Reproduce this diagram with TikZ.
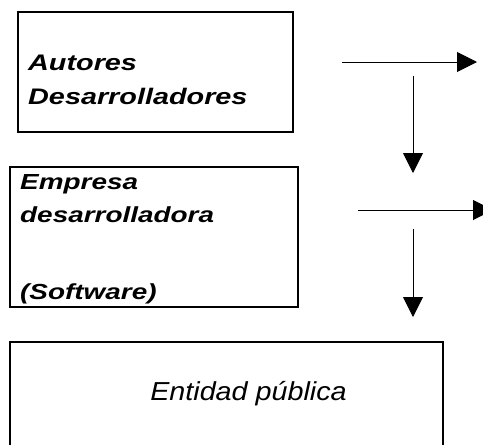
\documentclass[tikz,border=0pt]{standalone}
\usepackage{fontspec}
\usepackage{graphicx}
\usetikzlibrary{arrows.meta}
\newfontface\bifont{Liberation Sans Bold Italic}
\newfontface\itfont{Liberation Sans Italic}
\newcommand\widebold[1]{\scalebox{1.28}[1]{#1}}
\newcommand\wideit[1]{\scalebox{1.105}[1]{#1}}
\tikzset{
  box/.style={draw, line width=2pt, rectangle, inner sep=0pt},
  boldlbl/.style={anchor=base west, inner sep=0pt, font=\fontsize{22.5}{26}\selectfont\bifont},
  boldlblb/.style={anchor=base west, inner sep=0pt, font=\fontsize{21.8}{26}\selectfont\bifont},
  entlbl/.style={anchor=base, inner sep=0pt, font=\fontsize{26}{30}\selectfont\itfont},
  flow/.style={line width=1pt, -{Triangle[length=20pt,width=20pt]}}
}
\begin{document}
\begin{tikzpicture}[x=1pt,y=-1pt]
\useasboundingbox (0,0) rectangle (483,445);
\clip (0,0) rectangle (483,445);
% boxes
\node[box, minimum width=275pt, minimum height=120pt, anchor=north west] (autores) at (17,11) {};
\node[box, minimum width=288pt, minimum height=140pt, anchor=north west] (empresa) at (9,166) {};
\node[box, minimum width=433pt, minimum height=120pt, anchor=north west] (entidad) at (9,341) {};
% texts
\node[boldlbl] (t1) at (28,70) {\widebold{Autores}};
\node[boldlbl] (t2) at (28,104) {\widebold{Desarrolladores}};
\node[boldlblb] (t3) at (20,189) {\widebold{Empresa}};
\node[boldlblb] (t4) at (20,222) {\widebold{desarrolladora}};
\node[boldlblb] (t5) at (20,299) {\widebold{(Software)}};
\node[entlbl] (t6) at (248.5,400) {\wideit{Entidad pública}};
% arrow end points
\coordinate (h1s) at (342,62);
\coordinate (h1e) at (477,62);
\coordinate (v1s) at (413,76);
\coordinate (v1e) at (413,173);
\coordinate (h2s) at (358,210);
\coordinate (h2e) at (493,210);
\coordinate (v2s) at (413,229);
\coordinate (v2e) at (413,317);
\draw[flow] (h1s) -- (h1e);
\draw[flow] (v1s) -- (v1e);
\draw[flow] (h2s) -- (h2e);
\draw[flow] (v2s) -- (v2e);
\end{tikzpicture}
\end{document}
